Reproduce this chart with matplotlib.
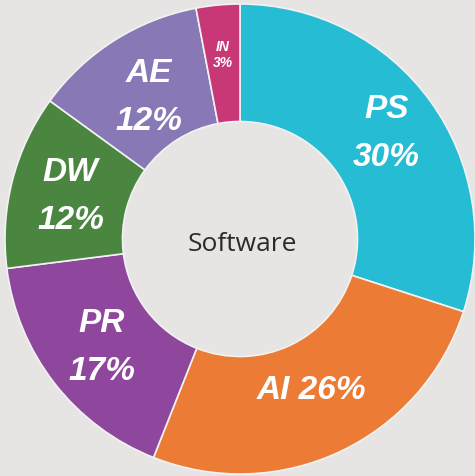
import matplotlib.pyplot as plt
import numpy as np

labels = ["PS", "AI", "PR", "DW", "AE", "IN"]
values = [30, 26, 17, 12, 12, 3]
colors = ["#26bcd4", "#ec7c35", "#8e479c", "#4a8640", "#8878b5", "#c93876"]
center_label = "Software"

# label placement (fraction of outer radius) per slice
label_r = [0.77, 0.71, 0.745, 0.745, 0.72, 0.79]

fig = plt.figure(figsize=(4.75, 4.77), dpi=100)
fig.patch.set_facecolor("#e6e5e3")
ax = fig.add_axes([0, 0, 1, 1])
ax.set_facecolor("#e6e5e3")

R = 1.0
width = 0.5
wedges, _ = ax.pie(values, colors=colors, startangle=90, counterclock=False,
                   radius=R, wedgeprops=dict(width=width, edgecolor="#f2f2f2", linewidth=1.2))

for w, lab, v, r in zip(wedges, labels, values, label_r):
    ang = np.deg2rad((w.theta1 + w.theta2) / 2)
    fs = 10 if v < 5 else 24
    x, y = r * np.cos(ang), r * np.sin(ang)
    if lab == "AI":
        txt = f"{lab} {v}%"
    else:
        txt = f"{lab}\n{v}%"
    ax.text(x, y, txt, ha="center", va="center", color="white", fontsize=fs,
            fontweight="bold", fontstyle="italic", family="Liberation Sans",
            linespacing=1.7 if v >= 5 else 1.15)

ax.text(0.01, -0.02, center_label, ha="center", va="center", fontsize=19,
        color="#2b2b2b", family="Open Sans")

ax.set_xlim(-240 / 235, 235 / 235)
ax.set_ylim(-237 / 235, 240 / 235)
ax.set_aspect("equal")
ax.axis("off")

fig.savefig("out.png", dpi=100, facecolor=fig.get_facecolor())
